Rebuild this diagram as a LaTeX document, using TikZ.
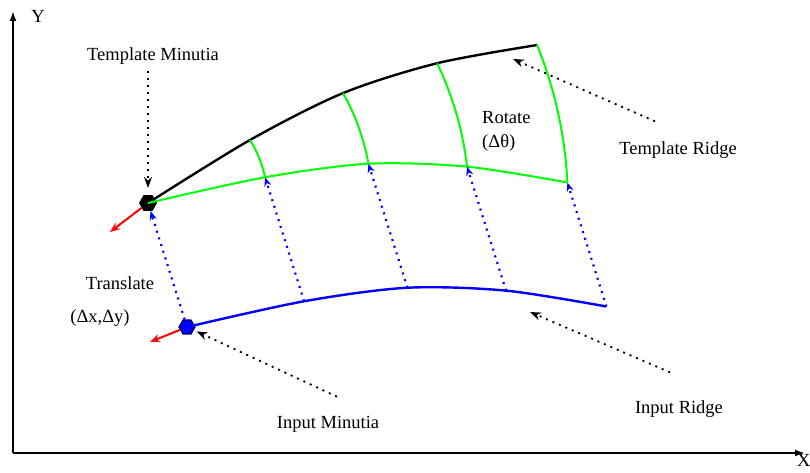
\documentclass[tikz,border=0pt]{standalone}
\usepackage{fontspec}
\setmainfont{Liberation Serif}
\usetikzlibrary{arrows.meta,positioning,calc,shapes.geometric}

\begin{document}
\begin{tikzpicture}[
  x=1pt, y=1pt,
  lbl/.style={font=\fontsize{18.5}{22}\selectfont, inner sep=0pt},
  axisline/.style={line width=2pt, -{Latex[length=10pt, width=7pt]}},
  ridge/.style={line width=2.4pt},
  sweep/.style={line width=2pt, green},
  transl/.style={line width=2.2pt, blue, dash pattern=on 2pt off 5pt,
    -{Stealth[open, length=9pt, width=7pt, line width=1.4pt]}},
  pointer/.style={line width=1.8pt, dash pattern=on 2pt off 5pt,
    -{Stealth[open, length=11pt, width=8pt, line width=1.6pt]}},
  orient/.style={line width=2pt, red,
    -{Stealth[open, length=10pt, width=8pt, line width=1.4pt]}},
  minutia/.style={regular polygon, regular polygon sides=6,
    minimum size=18pt, inner sep=0pt},
]
  \useasboundingbox (0,0) rectangle (810,473);

  % axes
  \coordinate (o) at (13,20);
  \coordinate (ytop) at (13,462);
  \coordinate (xend) at (805,20);
  \draw[axisline] (o) -- (ytop);
  \draw[axisline] (o) -- (xend);
  \node[lbl] (ylbl) at (38,457) {Y};
  \node[lbl, anchor=north west] (xlbl) at (797,19) {X};

  % minutiae
  \node[minutia, fill=black] (tm) at (148,270) {};
  \node[minutia, fill=blue, draw=blue!35!black, line width=1.2pt,
    minimum size=16pt] (im) at (187,146) {};

  % template ridge and its rotated copy
  \coordinate (b1) at ($(tm.center)+(31.7:119.9)$);
  \coordinate (b2) at ($(tm.center)+(29.4:223.9)$);
  \coordinate (b3) at ($(tm.center)+(25.8:321.1)$);
  \coordinate (b4) at ($(tm.center)+(22.1:419.9)$);
  \coordinate (g1) at ($(tm.center)+(12.4:119.9)$);
  \coordinate (g2) at ($(tm.center)+(10.1:223.9)$);
  \coordinate (g3) at ($(tm.center)+(6.5:321.1)$);
  \coordinate (g4) at ($(tm.center)+(2.8:419.9)$);

  % input ridge = rotated ridge shifted to the input minutia
  \coordinate (tr) at ($(im.center)-(tm.center)$);
  \coordinate (p1) at ($(g1)+(tr)$);
  \coordinate (p2) at ($(g2)+(tr)$);
  \coordinate (p3) at ($(g3)+(tr)$);
  \coordinate (p4) at ($(g4)+(tr)$);

  \draw[ridge, black] plot[smooth] coordinates {(tm.center) (b1) (b2) (b3) (b4)};
  \draw[sweep] plot[smooth] coordinates {(tm.center) (g1) (g2) (g3) (g4)};
  \draw[ridge, blue] plot[smooth] coordinates {(im.center) (p1) (p2) (p3) (p4)};

  \draw[sweep] (b1) arc[start angle=31.7, end angle=12.4, radius=119.9];
  \draw[sweep] (b2) arc[start angle=29.4, end angle=10.1, radius=223.9];
  \draw[sweep] (b3) arc[start angle=25.8, end angle=6.5, radius=321.1];
  \draw[sweep] (b4) arc[start angle=22.1, end angle=2.8, radius=419.9];

  % translation
  \draw[transl] (im) -- (tm);
  \draw[transl] (p1) -- (g1);
  \draw[transl] (p2) -- (g2);
  \draw[transl] (p3) -- (g3);
  \draw[transl] (p4) -- (g4);

  % minutia directions
  \coordinate (tmdir) at (110,241);
  \coordinate (imdir) at (150,131);
  \draw[orient] (tm) -- (tmdir);
  \draw[orient] (im) -- (imdir);

  % labels
  \node[lbl] (tmtext) at (153,417) {Template Minutia};
  \node[lbl] (trtext) at (678,323) {Template Ridge};
  \node[lbl] (imtext) at (328,49) {Input Minutia};
  \node[lbl] (irtext) at (679,64) {Input Ridge};
  \node[lbl, anchor=west] (rottext) at (482,355) {Rotate};
  \node[lbl, below=10pt of rottext.south west, anchor=north west] (rotval) {(Δθ)};
  \node[lbl] (trltext) at (120,190) {Translate};
  \node[lbl] (trlval) at (100,155) {(Δx,Δy)};

  \coordinate (trtip) at (513,414);
  \coordinate (irtip) at (530,161);
  \draw[pointer, shorten <=6pt, shorten >=7pt] (tmtext.south -| tm) -- (tm.north);
  \draw[pointer] ([shift={(-23,20)}]trtext.north) -- (trtip);
  \draw[pointer, shorten >=3pt] ([shift={(9,19)}]imtext.north) -- (im);
  \draw[pointer] ([shift={(-9,28)}]irtext.north) -- (irtip);
\end{tikzpicture}
\end{document}
